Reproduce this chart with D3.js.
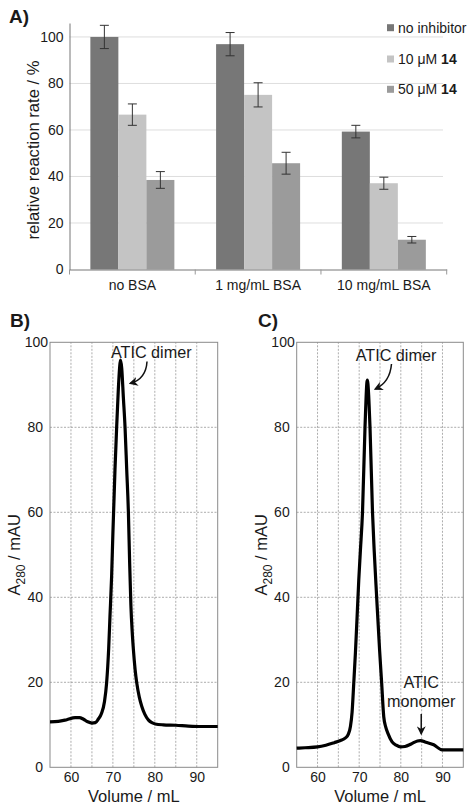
<!DOCTYPE html>
<html><head><meta charset="utf-8">
<script src="https://cdn.jsdelivr.net/npm/d3@7"></script>
<style>
html,body{margin:0;padding:0;background:#fff;}
text{font-family:"Liberation Sans",Arial,sans-serif;fill:#1a1a1a;}
</style></head>
<body>
<svg id="c" width="474" height="808"></svg>
<script>
// ---------- data ----------
const categories = ["no BSA", "1 mg/mL BSA", "10 mg/mL BSA"];
const seriesNames = ["no inhibitor", "10 μM 14", "50 μM 14"];
const noInhibitor = [100, 96.9, 59.3];
const inh10 = [66.6, 75.1, 37.1];
const inh50 = [38.5, 45.7, 12.8];
const errNoInhibitor = [5.0, 5.0, 2.7];
const errInh10 = [4.6, 5.2, 2.6];
const errInh50 = [3.6, 4.7, 1.4];
const barTicks = [0, 20, 40, 60, 80, 100];

const volB = [55,57,59,61,62,63,64,65,65.8,66.5,67.3,68,68.5,69,69.3,69.7,70.0,70.5,70.9,71.3,71.6,71.8,72.1,72.5,72.9,73.3,73.7,74.0,74.3,74.6,74.9,75.3,75.7,76.3,76.9,77.6,78.5,79.3,80.1,82,85,88,91,95];
const absB = [10.7,10.8,11.2,11.7,11.7,11.3,10.7,10.4,10.5,11.3,12.7,15.5,19.8,28,35.4,45,55,70,80,89,94,95.8,94,87,80,70,60,48,38,32,27.6,23,19.8,16.5,14.3,12.5,11.1,10.5,10.2,10.0,9.9,9.7,9.6,9.6];
const volC = [55,57,60,62,64,65.5,66.7,67.4,67.9,68.3,68.7,69.1,69.5,69.9,70.3,70.8,71.4,71.95,72.6,73.2,73.6,74.2,74.9,75.4,75.9,76.4,76.9,77.9,78.9,79.9,81,82.5,84,84.7,86,87.9,89.9,92,95];
const absC = [4.5,4.6,4.8,5.2,5.8,6.3,6.9,7.8,9.6,13,19.8,27,35.4,44,51.1,60,80,91.1,80,60,51.1,40,27.6,19.8,11.9,9.4,8.0,6.0,5.2,4.8,4.9,5.5,6.2,6.3,5.9,5.3,4.1,4.1,4.1];
const volTicks = [60, 70, 80, 90];
const volGrid = [60, 65, 70, 75, 80, 85, 90];
const absTicks = [0, 20, 40, 60, 80, 100];
const absGrid = [20, 40, 60, 80];

const svg = d3.select("#c");
const FONT = '"Liberation Sans",Arial,sans-serif';
const colors = ["#777777", "#c4c4c4", "#9b9b9b"];

// ---------- Panel A ----------
(function(){
  const x0 = d3.scaleBand().domain(categories).range([69.5, 446.7]).padding(0);
  const x1 = d3.scaleBand().domain(seriesNames).range([0, x0.bandwidth()]).paddingInner(0).paddingOuter(0.745);
  const y = d3.scaleLinear().domain([0, 106]).range([269.5, 23]);
  const g = svg.append("g");
  g.selectAll("line.grid").data(barTicks.filter(d=>d>0)).join("line")
    .attr("x1", 69.5).attr("x2", 443).attr("y1", d=>y(d)).attr("y2", d=>y(d))
    .attr("stroke", "#dedede").attr("stroke-width", 1);
  const vals = [noInhibitor, inh10, inh50];
  const errs = [errNoInhibitor, errInh10, errInh50];
  const rows = [];
  categories.forEach((c,i)=>seriesNames.forEach((s,j)=>rows.push({c, s, j, v: vals[j][i], e: errs[j][i]})));
  g.selectAll("rect.bar").data(rows).join("rect")
    .attr("x", d=>x0(d.c)+x1(d.s)).attr("width", x1.bandwidth())
    .attr("y", d=>y(d.v)).attr("height", d=>y(0)-y(d.v))
    .attr("fill", d=>colors[d.j]);
  const cx = d=>x0(d.c)+x1(d.s)+x1.bandwidth()/2;
  const eb = g.selectAll("g.err").data(rows).join("g").attr("stroke", "#333").attr("stroke-width", 1);
  eb.append("line").attr("x1", cx).attr("x2", cx)
    .attr("y1", d=>y(d.v+d.e)).attr("y2", d=>y(d.v-d.e));
  eb.append("line").attr("x1", d=>cx(d)-4.5).attr("x2", d=>cx(d)+4.5)
    .attr("y1", d=>y(d.v+d.e)).attr("y2", d=>y(d.v+d.e));
  eb.append("line").attr("x1", d=>cx(d)-4.5).attr("x2", d=>cx(d)+4.5)
    .attr("y1", d=>y(d.v-d.e)).attr("y2", d=>y(d.v-d.e));
  const ya = g.append("g").attr("transform", "translate(69.5,0)")
    .call(d3.axisLeft(y).tickValues(barTicks).tickSize(0).tickPadding(6));
  ya.select(".domain").attr("stroke", "#777");
  ya.selectAll("text").attr("font-size", 14).attr("font-family", FONT).attr("fill", "#222");
  const xa = g.append("g").attr("transform", "translate(0,269.5)")
    .call(d3.axisBottom(x0).tickSize(0).tickPadding(11));
  xa.select(".domain").attr("stroke", "#777");
  xa.selectAll("text").attr("font-size", 14).attr("font-family", FONT).attr("fill", "#222");
  g.selectAll("line.div").data([...categories.map(c=>x0(c)), x0.range()[1]]).join("line")
    .attr("x1", d=>d).attr("x2", d=>d).attr("y1", 269.5).attr("y2", 274.5).attr("stroke", "#999");
  g.append("text").attr("transform", "translate(39,150) rotate(-90)").attr("text-anchor", "middle")
    .attr("font-size", 16.6).text("relative reaction rate / %");
  const leg = g.append("g");
  const ly = [27.7, 59, 89.3];
  seriesNames.forEach((s,j)=>{
    leg.append("rect").attr("x", 387).attr("y", ly[j]-3.5).attr("width", 7).attr("height", 7).attr("fill", colors[j]);
    const t = leg.append("text").attr("x", 398).attr("y", ly[j]+5).attr("font-size", 14);
    const m = s.match(/^(.*?)(\s14)$/);
    if (m) { t.append("tspan").text(m[1] + " "); t.append("tspan").attr("font-weight", "bold").text("14"); }
    else t.text(s);
  });
  g.append("text").attr("x", 9).attr("y", 23).attr("font-size", 19).attr("font-weight", "bold").text("A)");
})();

// ---------- Panels B & C ----------
function chromPanel(left, right, vols, abss, label, labelX, annots){
  const x = d3.scaleLinear().domain([55, 95]).range([left, right]);
  const y = d3.scaleLinear().domain([0, 100]).range([767.3, 342.3]);
  const g = svg.append("g");
  g.selectAll("line.vg").data(volGrid).join("line")
    .attr("x1", d=>x(d)).attr("x2", d=>x(d)).attr("y1", y(0)).attr("y2", y(100))
    .attr("stroke", "#8a8a8a").attr("stroke-width", 0.7).attr("stroke-dasharray", "2,1.5");
  g.selectAll("line.hg").data(absGrid).join("line")
    .attr("x1", x(55)).attr("x2", x(95)).attr("y1", d=>y(d)).attr("y2", d=>y(d))
    .attr("stroke", "#8a8a8a").attr("stroke-width", 0.7).attr("stroke-dasharray", "2,1.5");
  g.append("rect").attr("x", x(55)).attr("y", y(100)).attr("width", x(95)-x(55)).attr("height", y(0)-y(100))
    .attr("fill", "none").attr("stroke", "#8a8a8a").attr("stroke-width", 1);
  const ya = g.append("g").attr("transform", `translate(${left},0)`)
    .call(d3.axisLeft(y).tickValues(absTicks).tickSize(0).tickPadding(7));
  ya.select(".domain").remove();
  ya.selectAll("text").attr("font-size", 14).attr("font-family", FONT).attr("fill", "#222")
    .attr("dx", d=>d===100 ? 5 : 0);
  const xa = g.append("g").attr("transform", `translate(0,${y(0)})`)
    .call(d3.axisBottom(x).tickValues(volTicks).tickSize(0).tickPadding(5));
  xa.select(".domain").remove();
  xa.selectAll("text").attr("font-size", 14).attr("font-family", FONT).attr("fill", "#222");
  g.append("text").attr("x", (left+right)/2).attr("y", 801.5).attr("text-anchor", "middle")
    .attr("font-size", 16.5).text("Volume / mL");
  const yt = g.append("text").attr("transform", `translate(${left-30},${(y(0)+y(100))/2}) rotate(-90)`)
    .attr("text-anchor", "middle").attr("font-size", 16.5);
  yt.append("tspan").text("A");
  yt.append("tspan").attr("font-size", 12).attr("dy", 5).text("280");
  yt.append("tspan").attr("dy", -5).text(" / mAU");
  const line = d3.line().x(d=>x(d[0])).y(d=>y(d[1])).curve(d3.curveMonotoneX);
  g.append("path").datum(vols.map((v,i)=>[v, abss[i]])).attr("d", line)
    .attr("fill", "none").attr("stroke", "#000").attr("stroke-width", 3.2).attr("stroke-linejoin", "round");
  g.append("text").attr("x", labelX).attr("y", 327).attr("font-size", 19).attr("font-weight", "bold").text(label);
  annots.forEach(a=>{
    a.lines.forEach(l=>g.append("text").attr("x", x(l.v)).attr("y", y(l.a)).attr("text-anchor", "middle")
      .attr("font-size", 16.2).text(l.t));
    const p = d3.path();
    p.moveTo(x(a.from[0]), y(a.from[1]));
    if (a.ctrl) p.quadraticCurveTo(x(a.ctrl[0]), y(a.ctrl[1]), x(a.to[0]), y(a.to[1]));
    else p.lineTo(x(a.to[0]), y(a.to[1]));
    g.append("path").attr("d", p.toString()).attr("fill", "none").attr("stroke", "#111").attr("stroke-width", 1.5)
      .attr("marker-end", "url(#ah)");
  });
}
const defs = svg.append("defs");
defs.append("marker").attr("id", "ah").attr("viewBox", "0 0 10 10").attr("refX", 8).attr("refY", 5)
  .attr("markerWidth", 6).attr("markerHeight", 6).attr("markerUnits", "strokeWidth").attr("orient", "auto")
  .append("path").attr("d", "M0,0 L10,5 L0,10 L3,5 Z").attr("fill", "#111");

chromPanel(50, 217.7, volB, absB, "B)", 10, [
  {lines:[{t:"ATIC dimer", v:79.16, a:96.4}], from:[78.14,95.5], ctrl:[77.9,91.36], to:[74.2,90.35]}
]);
chromPanel(296.7, 463.3, volC, absC, "C)", 258, [
  {lines:[{t:"ATIC dimer", v:78.84, a:95.7}], from:[77.76,94.9], ctrl:[77.4,90.66], to:[73.9,89.0]},
  {lines:[{t:"ATIC", v:84.9, a:18.66},{t:"monomer", v:84.9, a:14.26}], from:[84.9,12.54], to:[84.9,7.95]}
]);
</script>
</body></html>
